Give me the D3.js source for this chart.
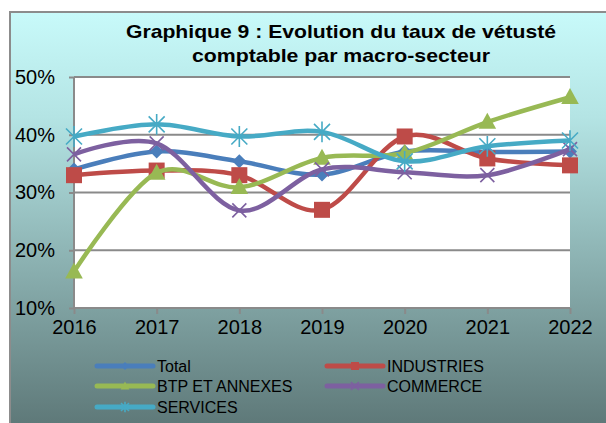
<!DOCTYPE html>
<html>
<head>
<meta charset="utf-8">
<script src="https://cdn.jsdelivr.net/npm/d3@7"></script>
<style>
    body { margin: 0; background: #fff; }
    svg { display: block; font-family: Arial, "Liberation Sans", sans-serif; }
</style>
</head>
<body>
<svg id="chart" width="606" height="423"></svg>
<script>
const years = ["2016", "2017", "2018", "2019", "2020", "2021", "2022"];
const seriesNames = ["Total", "INDUSTRIES", "BTP ET ANNEXES", "COMMERCE", "SERVICES"];
const total = [0.340, 0.371, 0.354, 0.331, 0.371, 0.370, 0.371];
const industries = [0.330, 0.338, 0.330, 0.270, 0.397, 0.359, 0.347];
const btp = [0.163, 0.334, 0.309, 0.360, 0.368, 0.422, 0.465];
const commerce = [0.366, 0.385, 0.269, 0.340, 0.335, 0.330, 0.375];
const services = [0.397, 0.418, 0.397, 0.405, 0.354, 0.380, 0.390];
const yTicks = [0.1, 0.2, 0.3, 0.4, 0.5];

const COLORS = ["#4a7ebb", "#be4b48", "#98b954", "#7d60a0", "#46aac5"];
const MARKERS = ["diamond", "square", "triangle", "cross", "star"];

const PLOT_LEFT = 74;
const PLOT_RIGHT = 570;
const PLOT_TOP = 77;
const PLOT_BOTTOM = 308;

const svg = d3.select("#chart");

// Frame with the vertical gradient
const defs = svg.append("defs");
const grad = defs.append("linearGradient")
    .attr("id", "bg")
    .attr("x1", 0).attr("y1", 0).attr("x2", 0).attr("y2", 1);
grad.append("stop").attr("offset", "0%").attr("stop-color", "#c8fafa");
grad.append("stop").attr("offset", "25%").attr("stop-color", "#b4e4e4");
grad.append("stop").attr("offset", "100%").attr("stop-color", "#5c7676");

svg.append("rect")
    .attr("x", 10).attr("y", 12)
    .attr("width", 620).attr("height", 420)
    .attr("fill", "url(#bg)")
    .attr("stroke", "#8c8c8c")
    .attr("stroke-width", 2);

// Title (stretched a bit, the original font runs wider)
const title = svg.append("text")
    .attr("text-anchor", "middle")
    .attr("font-weight", "bold")
    .attr("font-size", 19)
    .attr("fill", "#000");
title.append("tspan").attr("x", 341).attr("y", 38)
    .attr("textLength", 430).attr("lengthAdjust", "spacingAndGlyphs")
    .text("Graphique 9 : Evolution du taux de vétusté");
title.append("tspan").attr("x", 341).attr("y", 62)
    .attr("textLength", 298).attr("lengthAdjust", "spacingAndGlyphs")
    .text("comptable par macro-secteur");

const x = d3.scalePoint().domain(years).range([PLOT_LEFT, PLOT_RIGHT]);
const y = d3.scaleLinear().domain([0.1, 0.5]).range([PLOT_BOTTOM, PLOT_TOP]);

// Plot area
svg.append("rect")
    .attr("x", PLOT_LEFT).attr("y", PLOT_TOP)
    .attr("width", PLOT_RIGHT - PLOT_LEFT).attr("height", PLOT_BOTTOM - PLOT_TOP)
    .attr("fill", "#fff");

svg.append("g")
    .selectAll("line")
    .data(yTicks)
    .join("line")
    .attr("x1", PLOT_LEFT).attr("x2", PLOT_RIGHT)
    .attr("y1", (d) => y(d)).attr("y2", (d) => y(d))
    .attr("stroke", "#8a8a8a")
    .attr("stroke-width", 2);

// Axes
const yAxis = svg.append("g")
    .attr("transform", `translate(${PLOT_LEFT},0)`)
    .call(d3.axisLeft(y).tickValues(yTicks).tickFormat(d3.format(".0%")).tickSize(5).tickPadding(14));
const xAxis = svg.append("g")
    .attr("transform", `translate(0,${PLOT_BOTTOM})`)
    .call(d3.axisBottom(x).tickSize(6).tickPadding(6));

[yAxis, xAxis].forEach((axis) => {
    axis.select(".domain").attr("stroke", "#8a8a8a").attr("stroke-width", 2);
    axis.selectAll(".tick line").attr("stroke", "#8a8a8a").attr("stroke-width", 2);
    axis.selectAll(".tick text")
        .attr("fill", "#000")
        .attr("font-size", 20)
        .attr("font-family", "Arial, 'Liberation Sans', sans-serif");
});
yAxis.select(".domain").attr("d", `M0,${PLOT_TOP}V${PLOT_BOTTOM}`);
xAxis.select(".domain").attr("d", `M${PLOT_LEFT},0H${PLOT_RIGHT}`);

/**
 * @param {d3.Selection} g
 * @param {string} kind
 * @param {string} color
 * @param {number} s
 */
function drawMarker(g, kind, color, s) {
    if(kind === "diamond") {
        g.append("path").attr("d", `M0,${-s}L${s},0L0,${s}L${-s},0Z`).attr("fill", color);
    } else if(kind === "square") {
        g.append("rect").attr("x", -s).attr("y", -s).attr("width", 2 * s).attr("height", 2 * s).attr("fill", color);
    } else if(kind === "triangle") {
        g.append("path").attr("d", `M0,${-s * 1.15}L${s * 1.1},${s * 0.85}L${-s * 1.1},${s * 0.85}Z`).attr("fill", color);
    } else if(kind === "cross") {
        g.append("path").attr("d", `M${-s},${-s}L${s},${s}M${s},${-s}L${-s},${s}`)
            .attr("stroke", color).attr("stroke-width", 1.6);
    } else {
        g.append("path").attr("d", `M${-s},${-s}L${s},${s}M${s},${-s}L${-s},${s}M0,${-s * 1.3}V${s * 1.3}`)
            .attr("stroke", color).attr("stroke-width", 1.6);
    }
}

const allSeries = [total, industries, btp, commerce, services];
const markerSize = [7, 8, 8, 7, 8];
const line = d3.line()
    .x((d, i) => x(years[i]))
    .y((d) => y(d))
    .curve(d3.curveCardinal.tension(0));

allSeries.forEach((values, k) => {
    const g = svg.append("g").attr("class", "series");
    g.append("path")
        .attr("d", line(values))
        .attr("fill", "none")
        .attr("stroke", COLORS[k])
        .attr("stroke-width", 4.5)
        .attr("stroke-linejoin", "round");
    values.forEach((v, i) => {
        const m = g.append("g").attr("transform", `translate(${x(years[i])},${y(v)})`);
        drawMarker(m, MARKERS[k], COLORS[k], markerSize[k]);
    });
});

// Legend
const legendPos = [[97, 366], [327, 366], [97, 386], [327, 386], [97, 407]];
seriesNames.forEach((name, k) => {
    const [lx, ly] = legendPos[k];
    const g = svg.append("g").attr("transform", `translate(${lx},${ly})`);
    g.append("line")
        .attr("x1", 0).attr("x2", 56)
        .attr("stroke", COLORS[k])
        .attr("stroke-width", 5)
        .attr("stroke-linecap", "round");
    const m = g.append("g").attr("transform", "translate(28,0)");
    drawMarker(m, MARKERS[k], COLORS[k], 4);
    g.append("text")
        .attr("x", 60).attr("y", 5.5)
        .attr("font-size", 16)
        .attr("fill", "#000")
        .text(name);
});
</script>
</body>
</html>
